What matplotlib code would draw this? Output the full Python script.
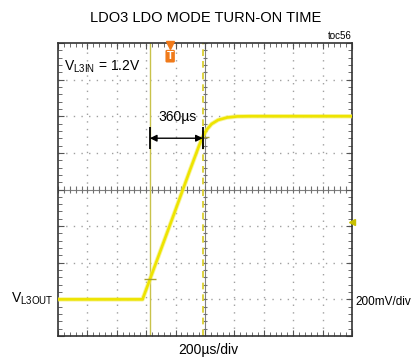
import matplotlib
matplotlib.use('Agg')
import matplotlib.pyplot as plt
import numpy as np

plt.rcParams['font.family'] = ['Liberation Sans', 'DejaVu Sans']
plt.rcParams['mathtext.default'] = 'regular'

# scope capture: 200us/div, 200mV/div, 10 x 8 divisions
t_us = [-1000, -425, -384, -200, -105, -40, -17, 10, 45, 90, 150, 220, 303, 1000]
v_out = [0.0, 0.0, 0.089, 0.49, 0.70, 0.84, 0.885, 0.925, 0.958, 0.980, 0.993, 0.999, 1.0, 1.0]

cursor_a = -375   # us
cursor_b = -15    # us
trig_t = -237     # trigger position marker
delta_label = '360µs'

x_div, y_div = 200, 0.2
y_mid = 0.6

fig = plt.figure(figsize=(4.12, 3.6), dpi=100)
ax = fig.add_axes([58 / 412, 24 / 360, 294 / 412, 293 / 360])
ax.set_xlim(-5 * x_div, 5 * x_div)
ax.set_ylim(y_mid - 4 * y_div, y_mid + 4 * y_div)

# dotted graticule
grid_c = '#a0a0a0'
for i in range(-4, 5):
    if i != 0:
        ax.axvline(i * x_div, color=grid_c, lw=1.0, ls=(0, (1, 4.5)), zorder=1)
for j in range(-3, 4):
    if j != 0:
        ax.axhline(y_mid + j * y_div, color=grid_c, lw=1.0, ls=(0, (1, 4.5)), zorder=1)
ax.axvline(0, color='#808080', lw=0.8, zorder=1)
ax.axhline(y_mid, color='#808080', lw=0.8, zorder=1)

# minor ticks on the center cross
xt = np.arange(-5 * x_div, 5 * x_div + 1, x_div / 5)
yt = np.arange(y_mid - 4 * y_div, y_mid + 4 * y_div + 0.001, y_div / 5)
ax.vlines(xt, y_mid - 0.017, y_mid + 0.017, color='#707070', lw=0.8, zorder=1)
ax.hlines(yt, -12, 12, color='#707070', lw=0.8, zorder=1)

ax.set_xticks(np.arange(-5 * x_div, 5 * x_div + 1, x_div))
ax.set_yticks(np.arange(y_mid - 4 * y_div, y_mid + 4 * y_div + 0.001, y_div))
ax.set_xticks(xt, minor=True)
ax.set_yticks(yt, minor=True)
ax.tick_params(which='both', direction='in', top=True, right=True,
               labelbottom=False, labelleft=False, color='#555555')
ax.tick_params(which='major', length=4, width=0.8)
ax.tick_params(which='minor', length=3, width=0.6)
for s in ax.spines.values():
    s.set_color('#333333')
    s.set_linewidth(1.2)

# cursors
ax.axvline(cursor_a, color='#c9c24a', lw=1.0, zorder=2)
ax.axvline(cursor_b, color='#d8cc20', lw=1.2, ls=(0, (4, 3)), zorder=2)

# trace
ax.plot(t_us, v_out, color='#f3ee60', lw=3.2, alpha=0.6, solid_capstyle='butt', zorder=3)
ax.plot(t_us, v_out, color='#eee400', lw=1.9, solid_capstyle='butt', zorder=4)
ax.plot([cursor_a, cursor_b], [np.interp(cursor_a, t_us, v_out), np.interp(cursor_b, t_us, v_out)],
        ls='none', marker='_', ms=9, mew=1.0, color='#a8a030', zorder=5)

# delta-t measurement
ax.vlines([cursor_a, cursor_b], 0.82, 0.94, color='black', lw=1.3, zorder=6)
ax.annotate('', xy=(cursor_b, 0.88), xytext=(cursor_a, 0.88),
            arrowprops=dict(arrowstyle='<|-|>', color='black', lw=1.0,
                            mutation_scale=10, shrinkA=0, shrinkB=0), zorder=6)
ax.text((cursor_a + cursor_b) / 2 + 7, 0.995, delta_label, ha='center', va='center',
        fontsize=10, zorder=6)

# trigger marker and channel offset arrow
ax.plot([trig_t], [0.993], transform=ax.get_xaxis_transform(), marker='v', ms=6,
        color='#f07a1a', clip_on=False, zorder=7, ls='none')
ax.text(trig_t, 0.955, 'T', transform=ax.get_xaxis_transform(), ha='center', va='center',
        fontsize=8, fontweight='bold', color='white', zorder=7,
        bbox=dict(boxstyle='round,pad=0.12', fc='#f07a1a', ec='none'))
ax.plot([1.0], [y_mid - 0.9 * y_div], transform=ax.get_yaxis_transform(), marker='<',
        ms=5, color='#c8c000', clip_on=False, zorder=7, ls='none')

ax.text(0.02, 0.92, 'V$_{L3IN}$ = 1.2V', transform=ax.transAxes, fontsize=10,
        ha='left', va='center')

fig.text(0.5, 1 - 18 / 360, 'LDO3 LDO MODE TURN-ON TIME', ha='center', va='center',
         fontsize=10.5)
fig.text(352 / 412, 1 - 36 / 360, 'toc56', ha='right', va='center', fontsize=7)
fig.text(11 / 412, 1 - 299 / 360, 'V$_{L3OUT}$', ha='left', va='center', fontsize=10)
fig.text(355 / 412, 1 - 302 / 360, '200mV/div', ha='left', va='center', fontsize=8.5)
fig.text(208 / 412, 1 - 350 / 360, '200µs/div', ha='center', va='center', fontsize=10)

fig.savefig('out.png', dpi=100)
